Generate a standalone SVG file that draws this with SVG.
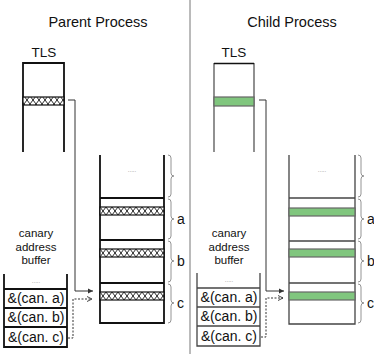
<svg xmlns="http://www.w3.org/2000/svg" width="374" height="354" viewBox="0 0 374 354">
<style>
text{font-family:"Liberation Sans","Open Sans",sans-serif;fill:#111}
.title{font-size:14.5px;text-anchor:middle}
.tls{font-size:13.5px;text-anchor:middle}
.buf{font-size:11.5px;text-anchor:middle}
.row{font-size:14px;text-anchor:middle}
.lbl{font-size:14px}
.dots{font-size:6px;text-anchor:middle;fill:#777}
.pk{stroke:#111;stroke-width:1.8;fill:none}
.ck{stroke:#444;stroke-width:1.3;fill:none}
.brace{stroke:#888;stroke-width:0.9;fill:none}
.conn{stroke:#333;stroke-width:1;fill:none}
.dash{stroke:#333;stroke-width:1;fill:none;stroke-dasharray:2,1.5}
.hatch{fill:url(#xh);stroke:#111;stroke-width:1.2}
.green{fill:#80c67e;stroke:#666;stroke-width:1.2}
</style>
<defs>
<pattern id="xh" patternUnits="userSpaceOnUse" width="6" height="8">
<rect width="6" height="8" fill="#fff"/>
<path d="M0,0 L6,8 M6,0 L0,8" stroke="#111" stroke-width="0.9"/>
</pattern>
<marker id="ah" markerWidth="6" markerHeight="6" refX="5" refY="3" orient="auto" markerUnits="userSpaceOnUse">
<path d="M0,0.5 L5,3 L0,5.5 Z" fill="#333"/>
</marker>
<marker id="ao" markerWidth="6" markerHeight="6" refX="5" refY="3" orient="auto" markerUnits="userSpaceOnUse">
<path d="M0,0.5 L5,3 L0,5.5" fill="none" stroke="#333" stroke-width="0.9"/>
</marker>
</defs>
<rect width="374" height="354" fill="#fff"/>
<line x1="190" y1="0" x2="190" y2="354" stroke="#777" stroke-width="1"/>

<g id="parent">
<text class="title" x="98" y="27">Parent Process</text>
<g id="p-tls">
<text class="tls" x="44" y="57">TLS</text>
<path class="pk" d="M23,152 V63 H64 V152"/>
<rect class="hatch" x="23" y="97" width="41" height="8"/>
</g>
<g id="p-stack">
<path class="pk" d="M100,155 V323 H164 V155"/>
<text class="dots" x="132" y="172">.....</text>
<line class="pk" x1="100" y1="198" x2="164" y2="198"/>
<line class="pk" x1="100" y1="240" x2="164" y2="240"/>
<line class="pk" x1="100" y1="283" x2="164" y2="283"/>
<g transform="translate(100,207)"><rect class="hatch" width="64" height="8"/></g>
<g transform="translate(100,249)"><rect class="hatch" width="64" height="8"/></g>
<g transform="translate(100,292)"><rect class="hatch" width="64" height="8"/></g>
<path class="brace" d="M168,155 q3,0 3,3 V173 q0,3 3,3 q-3,0 -3,3 V194 q0,3 -3,3"/>
<path class="brace" d="M168,199 q3,0 3,3 V216 q0,3 3,3 q-3,0 -3,3 V236 q0,3 -3,3"/>
<path class="brace" d="M168,241 q3,0 3,3 V258 q0,3 3,3 q-3,0 -3,3 V279 q0,3 -3,3"/>
<path class="brace" d="M168,284 q3,0 3,3 V300 q0,3 3,3 q-3,0 -3,3 V320 q0,3 -3,3"/>
<text class="lbl" x="177" y="224">a</text>
<text class="lbl" x="177" y="266">b</text>
<text class="lbl" x="177" y="308">c</text>
</g>
<g id="p-buffer">
<text class="buf" x="36" y="237">canary</text>
<text class="buf" x="36" y="250.5">address</text>
<text class="buf" x="36" y="264">buffer</text>
<path class="pk" d="M4,274 V347 H67 V274"/>
<text class="dots" x="36" y="283">.....</text>
<line class="pk" x1="4" y1="289" x2="67" y2="289"/>
<line class="pk" x1="4" y1="308" x2="67" y2="308"/>
<line class="pk" x1="4" y1="327" x2="67" y2="327"/>
<text class="row" x="36" y="303">&amp;(can. a)</text>
<text class="row" x="36" y="322">&amp;(can. b)</text>
<text class="row" x="36" y="342">&amp;(can. c)</text>
</g>
</g>

<g id="child">
<text class="title" x="292" y="27">Child Process</text>
<g id="c-tls">
<text class="tls" x="234" y="57">TLS</text>
<path d="M214,152 V63" stroke="#555" stroke-width="1.3"/>
<path d="M254,152 V63" stroke="#555" stroke-width="1.3"/>
<line x1="214" y1="63.5" x2="254" y2="63.5" stroke="#111" stroke-width="1.3"/>
<rect class="green" x="214" y="97" width="40" height="9"/>
</g>
<g id="c-stack">
<path class="ck" d="M289,155 V324 H355 V155"/>
<text class="dots" x="322" y="172">.....</text>
<line class="ck" x1="289" y1="198" x2="355" y2="198"/>
<line class="ck" x1="289" y1="241" x2="355" y2="241"/>
<line class="ck" x1="289" y1="283" x2="355" y2="283"/>
<rect class="green" x="289" y="208" width="66" height="8"/>
<rect class="green" x="289" y="249" width="66" height="8"/>
<rect class="green" x="289" y="292" width="66" height="8"/>
<path class="brace" d="M358,155 q3,0 3,3 V173 q0,3 3,3 q-3,0 -3,3 V194 q0,3 -3,3"/>
<path class="brace" d="M358,199 q3,0 3,3 V216 q0,3 3,3 q-3,0 -3,3 V236 q0,3 -3,3"/>
<path class="brace" d="M358,241 q3,0 3,3 V258 q0,3 3,3 q-3,0 -3,3 V279 q0,3 -3,3"/>
<path class="brace" d="M358,284 q3,0 3,3 V300 q0,3 3,3 q-3,0 -3,3 V320 q0,3 -3,3"/>
<text class="lbl" x="367" y="224">a</text>
<text class="lbl" x="367" y="266">b</text>
<text class="lbl" x="367" y="308">c</text>
</g>
<g id="c-buffer">
<text class="buf" x="229" y="237">canary</text>
<text class="buf" x="229" y="250.5">address</text>
<text class="buf" x="229" y="264">buffer</text>
<path class="ck" d="M197,273 V346 H260 V273"/>
<text class="dots" x="229" y="282">.....</text>
<line class="ck" x1="197" y1="288" x2="260" y2="288"/>
<line class="ck" x1="197" y1="307" x2="260" y2="307"/>
<line class="ck" x1="197" y1="326" x2="260" y2="326"/>
<text class="row" x="229" y="302">&amp;(can. a)</text>
<text class="row" x="229" y="321">&amp;(can. b)</text>
<text class="row" x="229" y="341">&amp;(can. c)</text>
</g>
</g>

<g id="connectors">
<path class="conn" d="M68,100 H75 V291 H93" marker-end="url(#ah)"/>
<path class="dash" d="M68,338 H73 V299 H92" marker-end="url(#ao)"/>
<path class="conn" d="M259,100 H266 V291 H284" marker-end="url(#ah)"/>
<path class="dash" d="M261,337 H266 V298 H283" marker-end="url(#ao)"/>
</g>
</svg>
